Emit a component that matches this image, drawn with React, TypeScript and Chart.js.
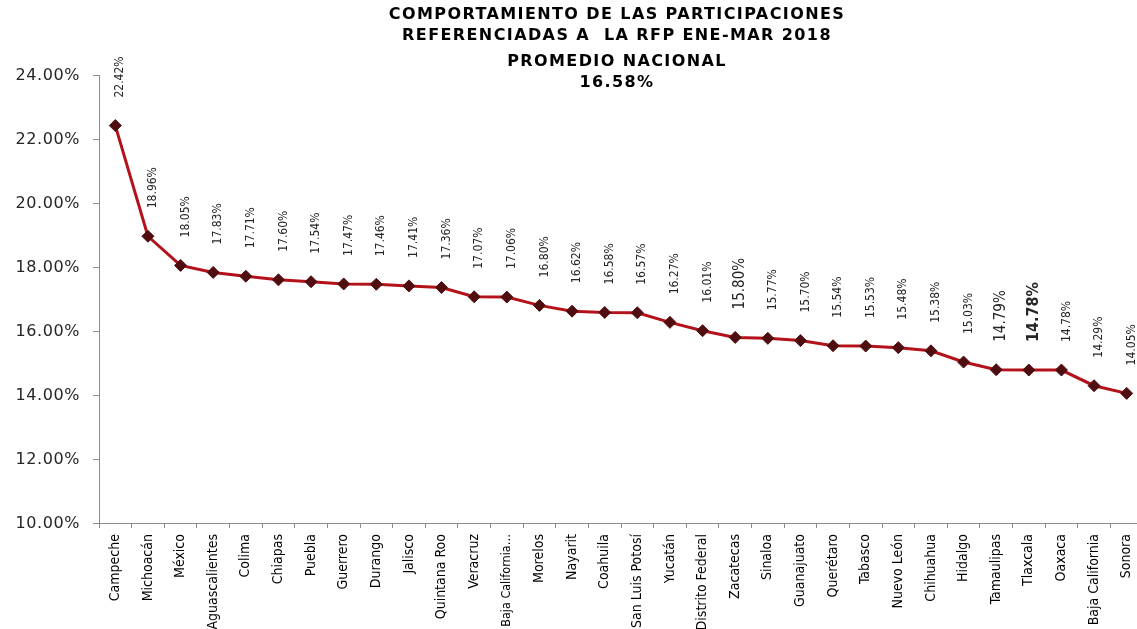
import React, { useEffect, useRef } from "react";
import { Chart, registerables } from "chart.js";

Chart.register(...registerables);

const titleLines = [
  "COMPORTAMIENTO DE LAS PARTICIPACIONES",
  "REFERENCIADAS A  LA RFP ENE-MAR 2018",
  "PROMEDIO NACIONAL",
  "16.58%",
];

const categories = [
  "Campeche", "Michoacán", "México", "Aguascalientes", "Colima", "Chiapas", "Puebla", "Guerrero",
  "Durango", "Jalisco", "Quintana Roo", "Veracruz", "Baja California…", "Morelos", "Nayarit", "Coahuila",
  "San Luis Potosí", "Yucatán", "Distrito Federal", "Zacatecas", "Sinaloa", "Guanajuato", "Querétaro", "Tabasco",
  "Nuevo León", "Chihuahua", "Hidalgo", "Tamaulipas", "Tlaxcala", "Oaxaca", "Baja California", "Sonora",
];

const values = [
  22.42, 18.96, 18.05, 17.83, 17.71, 17.6, 17.54, 17.47,
  17.46, 17.41, 17.36, 17.07, 17.06, 16.8, 16.62, 16.58,
  16.57, 16.27, 16.01, 15.8, 15.77, 15.7, 15.54, 15.53,
  15.48, 15.38, 15.03, 14.79, 14.78, 14.78, 14.29, 14.05,
];

const yTickValues = [10, 12, 14, 16, 18, 20, 22, 24];

const largeLabels = ["Zacatecas", "Tamaulipas"];
const boldLabels = ["Tlaxcala"];

const NARROW = '"Liberation Sans Narrow", "DejaVu Sans Condensed", Arial, sans-serif';
const WIDE = '"DejaVu Sans", Verdana, sans-serif';

export default function App() {
  const canvasRef = useRef<HTMLCanvasElement | null>(null);

  useEffect(() => {
    const canvas = canvasRef.current;
    if (!canvas) return;

    const labelPlugin = {
      id: "pointLabels",
      afterDatasetsDraw(chart: any) {
        const ctx = chart.ctx;
        const meta = chart.getDatasetMeta(0);
        meta.data.forEach((pt: any, i: number) => {
          const name = categories[i];
          let font = `12px ${NARROW}`;
          if (largeLabels.includes(name)) font = `15px ${NARROW}`;
          if (boldLabels.includes(name)) font = `bold 16px ${NARROW}`;
          ctx.save();
          ctx.translate(pt.x + 5, pt.y - 28);
          ctx.rotate(-Math.PI / 2);
          ctx.font = font;
          ctx.fillStyle = "#262626";
          ctx.textAlign = "left";
          ctx.textBaseline = "middle";
          ctx.fillText(values[i].toFixed(2) + "%", 0, 0);
          ctx.restore();
        });
      },
    };

    const yLabelPlugin = {
      id: "yLabels",
      afterDraw(chart: any) {
        const ctx = chart.ctx;
        const ys = chart.scales.y;
        ctx.save();
        ctx.font = `16px ${WIDE}`;
        (ctx as any).letterSpacing = "0.6px";
        ctx.fillStyle = "#262626";
        ctx.textAlign = "right";
        ctx.textBaseline = "middle";
        yTickValues.forEach((v) => {
          ctx.fillText(v.toFixed(2) + "%", 80, ys.getPixelForValue(v) + 1);
        });
        ctx.restore();
      },
    };

    const titlePlugin = {
      id: "titles",
      afterDraw(chart: any) {
        const ctx = chart.ctx;
        const cx = (chart.chartArea.left + chart.chartArea.right) / 2 - 4;
        const ys = [15, 36, 62, 83];
        ctx.save();
        ctx.fillStyle = "#000";
        ctx.textAlign = "center";
        ctx.textBaseline = "middle";
        ctx.font = `bold 16px ${WIDE}`;
        (ctx as any).letterSpacing = "1.4px";
        titleLines.forEach((t, i) => {
          ctx.fillText(t, cx, ys[i]);
        });
        ctx.restore();
      },
    };

    const chart = new Chart(canvas, {
      type: "line",
      data: {
        labels: categories,
        datasets: [
          {
            data: values,
            borderColor: "#b3121a",
            borderWidth: 3,
            pointStyle: "rectRot",
            pointRadius: 6,
            pointBackgroundColor: "#4f0d10",
            pointBorderColor: "#4f0d10",
            pointBorderWidth: 1,
            tension: 0,
          },
        ],
      },
      options: {
        animation: false,
        responsive: false,
        maintainAspectRatio: false,
        layout: { padding: { top: 75, left: 0, right: 5, bottom: 0 } },
        plugins: {
          legend: { display: false },
          title: { display: false },
          tooltip: { enabled: false },
        },
        scales: {
          y: {
            min: 10,
            max: 24,
            ticks: {
              stepSize: 2,
              display: false,
            },
            grid: {
              display: true,
              drawOnChartArea: false,
              drawTicks: true,
              tickLength: 6,
              color: "#8c8c8c",
            },
            border: { display: true, color: "#8c8c8c", width: 1 },
            afterFit: (s: any) => {
              s.width = 99;
            },
          },
          x: {
            offset: true,
            ticks: {
              minRotation: 90,
              maxRotation: 90,
              autoSkip: false,
              color: "#000",
              font: (c: any) => ({
                family: NARROW,
                size: String(categories[c.index] || "").endsWith("…") ? 12.5 : 14,
              }),
              padding: 6,
            },
            grid: {
              display: true,
              offset: true,
              drawOnChartArea: false,
              drawTicks: true,
              tickLength: 5,
              color: "#8c8c8c",
            },
            border: { display: true, color: "#8c8c8c", width: 1 },
            afterFit: (s: any) => {
              s.height = 106;
            },
          },
        },
      },
      plugins: [labelPlugin, yLabelPlugin, titlePlugin],
    });

    return () => chart.destroy();
  }, []);

  return (
    <div
      style={{
        position: "fixed",
        left: 0,
        top: 0,
        width: 1137,
        height: 629,
        overflow: "hidden",
        background: "#fff",
      }}
    >
      <canvas
        ref={canvasRef}
        width={1150}
        height={629}
        style={{ position: "absolute", left: 0, top: 0, width: 1150, height: 629 }}
      />
    </div>
  );
}
